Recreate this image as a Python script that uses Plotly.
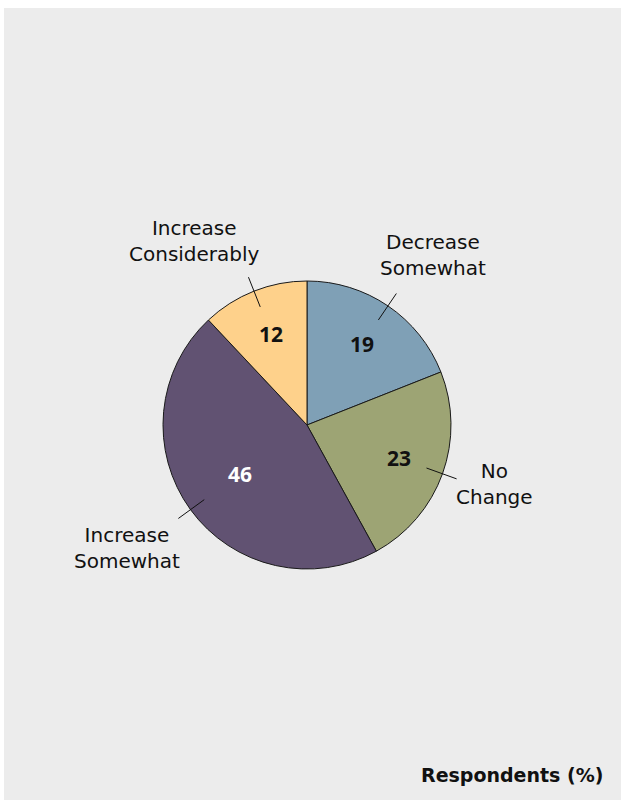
import math
import plotly.graph_objects as go

# Survey answers, clockwise from 12 o'clock
categories = ["Decrease Somewhat", "No Change", "Increase Somewhat", "Increase Considerably"]
outside_labels = ["Decrease<br>Somewhat", "No<br>Change", "Increase<br>Somewhat", "Increase<br>Considerably"]
values = [19, 23, 46, 12]
colors = ["#7fa0b6", "#9da474", "#615272", "#fed18b"]
value_font_colors = ["#111111", "#111111", "#ffffff", "#111111"]

W, H = 621, 801
CX, CY, R = 307, 425, 144  # pie centre and radius in pixels


def px(x, y):
    return x / W, 1 - y / H


fig = go.Figure(
    go.Pie(
        labels=categories,
        values=values,
        sort=False,
        direction="clockwise",
        rotation=0,
        marker=dict(colors=colors, line=dict(color="#1a1a1a", width=1)),
        textinfo="none",
        hoverinfo="label+value",
        showlegend=False,
        domain=dict(x=[(CX - R) / W, (CX + R) / W], y=[1 - (CY + R) / H, 1 - (CY - R) / H]),
    )
)

total = sum(values)
annotations = []
shapes = []

# label radius (px) for the value numbers; the large slice sits closer in
value_r = {2: 83}

start = 0.0
for i, v in enumerate(values):
    frac = v / total
    mid = (start + frac / 2) * 2 * math.pi  # clockwise from top
    start += frac
    sx, sy = math.sin(mid), -math.cos(mid)

    r_txt = value_r.get(i, 98)
    x, y = px(CX + r_txt * sx, CY + r_txt * sy)
    annotations.append(dict(
        x=x, y=y, xref="paper", yref="paper", text=f"<b>{v}</b>", showarrow=False,
        font=dict(family="Noto Sans", size=21, color=value_font_colors[i]),
        xanchor="center", yanchor="middle",
    ))

    x0, y0 = px(CX + 127 * sx, CY + 127 * sy)
    x1, y1 = px(CX + 159 * sx, CY + 159 * sy)
    shapes.append(dict(type="line", xref="paper", yref="paper", x0=x0, y0=y0, x1=x1, y1=y1,
                       line=dict(color="#111111", width=1)))

# outside category labels
label_pos = [(433, 255), (494, 484), (127, 548), (194, 241)]
for i, (lx, ly) in enumerate(label_pos):
    x, y = px(lx, ly)
    annotations.append(dict(
        x=x, y=y, xref="paper", yref="paper", text=outside_labels[i], showarrow=False,
        font=dict(family="DejaVu Sans", size=20, color="#111111"),
        xanchor="center", yanchor="middle", align="center",
    ))

x, y = px(605, 775)
annotations.append(dict(
    x=x, y=y, xref="paper", yref="paper", text="<b>Respondents (%)</b>", showarrow=False,
    font=dict(family="DejaVu Sans", size=19, color="#111111"), xanchor="right", yanchor="middle",
))

# grey panel behind the chart
gx0, gy0 = px(4, 8)
gx1, gy1 = px(621, 800)
shapes.insert(0, dict(type="rect", xref="paper", yref="paper", x0=gx0, y0=gy1, x1=gx1, y1=gy0,
                      fillcolor="#ececec", line=dict(width=0), layer="below"))

fig.update_layout(
    width=W, height=H,
    margin=dict(l=0, r=0, t=0, b=0),
    paper_bgcolor="#ffffff",
    plot_bgcolor="#ffffff",
    annotations=annotations,
    shapes=shapes,
)

fig.write_html("out.html")
